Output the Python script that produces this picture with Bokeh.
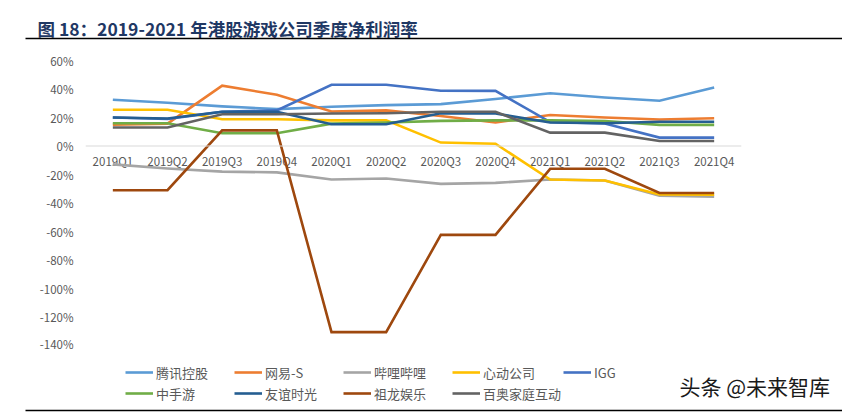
from bokeh.plotting import figure
from bokeh.layouts import column
from bokeh.models import (FactorRange, Range1d, FixedTicker, NumeralTickFormatter, Span, Label,
                          Legend, LegendItem, BoxAnnotation, ColumnDataSource)
from bokeh.core.properties import value
from bokeh.embed import file_html
from bokeh.resources import INLINE

# ---------------- data (net profit margin, %) ----------------
quarters = ["2019Q1", "2019Q2", "2019Q3", "2019Q4",
            "2020Q1", "2020Q2", "2020Q3", "2020Q4",
            "2021Q1", "2021Q2", "2021Q3", "2021Q4"]

tencent   = [32.5, 30.3, 27.8, 25.9, 27.5, 28.7, 29.4, 33.0, 37.0, 34.0, 31.8, 41.0]
netease   = [15.0, 15.7, 42.3, 36.0, 24.2, 25.0, 21.0, 16.5, 21.8, 20.0, 18.6, 19.5]
bilibili  = [-12.9, -15.8, -18.0, -18.5, -23.5, -22.8, -26.6, -25.9, -23.5, -24.2, -34.8, -35.5]
xd        = [25.4, 25.4, 18.8, 18.8, 18.0, 18.0, 2.4, 1.6, -23.5, -24.2, -34.0, -34.1]
igg       = [20.0, 19.0, 24.0, 25.0, 43.0, 43.0, 38.8, 38.7, 16.8, 15.8, 5.9, 5.9]
cmge      = [16.0, 16.0, 9.0, 9.0, 15.7, 16.5, 17.6, 18.0, 18.0, 17.5, 14.8, 14.8]
youyi     = [20.0, 19.3, 24.0, 24.0, 15.3, 15.3, 23.0, 22.8, 16.5, 16.0, 17.0, 17.0]
zulong    = [-31.0, -31.0, 11.0, 11.0, -130.6, -130.6, -62.4, -62.4, -16.0, -16.0, -33.0, -33.0]
baioo     = [13.0, 13.0, 22.3, 22.3, 22.8, 23.0, 24.0, 24.0, 9.4, 9.4, 3.5, 3.5]

series_names = ["腾讯控股", "网易-S", "哔哩哔哩", "心动公司", "IGG",
                "中手游", "友谊时光", "祖龙娱乐", "百奥家庭互动"]
series_values = [tencent, netease, bilibili, xd, igg, cmge, youyi, zulong, baioo]
series_colors = ["#5B9BD5", "#ED7D31", "#A5A5A5", "#FFC000", "#4472C4",
                 "#70AD47", "#255E91", "#9E480E", "#636363"]

y_ticks = [-1.4, -1.2, -1.0, -0.8, -0.6, -0.4, -0.2, 0.0, 0.2, 0.4, 0.6]

title_text = "图 18：2019-2021 年港股游戏公司季度净利润率"
watermark_text = "头条 @未来智库"

FONT = "Noto Sans CJK SC"
W = 842
H_HEAD, H_MAIN, H_FOOT = 46, 305, 62
LINE_W = 2.6


def blank_fig(h, x_range=None, y_range=None):
    f = figure(width=W, height=h,
               x_range=x_range if x_range is not None else Range1d(0, 1),
               y_range=y_range if y_range is not None else Range1d(0, 1),
               x_axis_location=None, y_axis_location=None,
               output_backend="svg", toolbar_location=None, min_border=0,
               frame_align=False)
    f.xgrid.visible = False
    f.ygrid.visible = False
    f.outline_line_color = None
    f.background_fill_color = "white"
    f.border_fill_color = "white"
    return f


def rule(y_top):
    return BoxAnnotation(left=25, right=W, top=y_top, bottom=y_top - 1.5,
                         left_units="screen", right_units="screen",
                         top_units="screen", bottom_units="screen",
                         fill_color="black", fill_alpha=1, line_color=None)


# ---------------- header ----------------
head = blank_fig(H_HEAD)
head.add_layout(Label(x=37, y=H_HEAD - 28, x_units="screen", y_units="screen", text=title_text,
                      text_font=FONT, text_font_size="17.5px", text_font_style="bold",
                      text_color="#1F3864", text_baseline="middle"))
head.add_layout(rule(H_HEAD - 37.25))

# ---------------- main chart ----------------
p = figure(width=W, height=H_MAIN,
           x_range=FactorRange(factors=quarters),
           y_range=Range1d(y_ticks[0], y_ticks[-1]),
           output_backend="svg", toolbar_location=None,
           min_border_left=85, min_border_right=101,
           min_border_top=14, min_border_bottom=6, frame_align=False)
p.background_fill_color = "white"
p.border_fill_color = "white"
p.outline_line_color = None
p.xaxis.visible = False
p.xgrid.visible = False
p.ygrid.visible = False

ya = p.yaxis[0]
ya.ticker = FixedTicker(ticks=y_ticks)
ya.formatter = NumeralTickFormatter(format="0%")
ya.axis_line_color = None
ya.major_tick_line_color = None
ya.minor_tick_line_color = None
ya.major_tick_out = 0
ya.minor_tick_out = 0
ya.major_label_standoff = 12
ya.major_label_text_color = "#595959"
ya.major_label_text_font = FONT
ya.major_label_text_font_size = "11.5px"

p.add_layout(Span(location=0, dimension="width", line_color="#D9D9D9", line_width=1))

lab_src = ColumnDataSource(dict(x=quarters, y=[0] * len(quarters), t=quarters))
p.text(x="x", y="y", text="t", source=lab_src, text_align="center", text_baseline="middle",
       y_offset=15, text_font=value(FONT), text_font_size="11.5px", text_color="#595959")

series_sources = []
for name, vals, col in zip(series_names, series_values, series_colors):
    src = ColumnDataSource(dict(x=quarters, y=[v / 100 for v in vals]))
    series_sources.append(src)
    p.line(x="x", y="y", source=src, line_color=col, line_width=LINE_W, line_join="miter")

# ---------------- footer: legend, watermark, rule ----------------
# same series drawn against a y-range above every value, so only the legend keys show
foot = blank_fig(H_FOOT, x_range=FactorRange(factors=quarters), y_range=Range1d(1, 2))
items = []
for name, src, col in zip(series_names, series_sources, series_colors):
    r = foot.line(x="x", y="y", source=src, line_color=col, line_width=LINE_W)
    items.append(LegendItem(label=name, renderers=[r]))

legend = Legend(items=items, orientation="horizontal", ncols=5,
                location=(125, 10.5),
                glyph_width=28, glyph_height=16, label_standoff=3,
                label_width=76, label_height=16, spacing=2, padding=0, margin=0,
                label_text_font=FONT, label_text_font_size="13px",
                label_text_color="#595959",
                border_line_color=None, background_fill_alpha=0)
foot.add_layout(legend)

foot.add_layout(Label(x=679, y=H_FOOT - 34, x_units="screen", y_units="screen",
                      text=watermark_text, text_font=FONT, text_font_size="21px",
                      text_color="#1A1A1A", text_baseline="middle"))
foot.add_layout(rule(H_FOOT - 58.25))

layout = column(head, p, foot, spacing=0)
open("out.html", "w").write(file_html(layout, INLINE))
